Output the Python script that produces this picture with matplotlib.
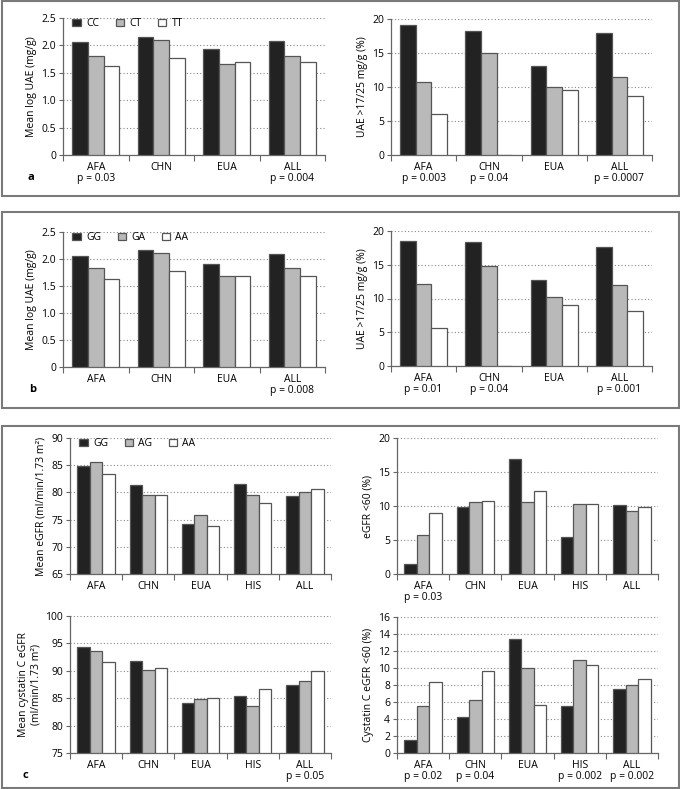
import matplotlib
matplotlib.use("Agg")
import matplotlib.pyplot as plt
from matplotlib.patches import Rectangle
import numpy as np

plt.rcParams["font.family"] = ["Open Sans", "DejaVu Sans"]
plt.rcParams["font.size"] = 7.5

# categories
groups_ab = ["AFA", "CHN", "EUA", "ALL"]
groups_c = ["AFA", "CHN", "EUA", "HIS", "ALL"]

# panel a
a_geno = ["CC", "CT", "TT"]
a_uae_cc = [2.06, 2.16, 1.93, 2.08]
a_uae_ct = [1.81, 2.10, 1.66, 1.81]
a_uae_tt = [1.63, 1.77, 1.70, 1.70]
a_uae_p = ["p = 0.03", "", "", "p = 0.004"]
a_pct_cc = [19.1, 18.2, 13.1, 18.0]
a_pct_ct = [10.8, 14.95, 9.95, 11.5]
a_pct_tt = [6.0, 0.0, 9.55, 8.7]
a_pct_p = ["p = 0.003", "p = 0.04", "", "p = 0.0007"]

# panel b
b_geno = ["GG", "GA", "AA"]
b_uae_gg = [2.05, 2.16, 1.91, 2.10]
b_uae_ga = [1.84, 2.12, 1.68, 1.84]
b_uae_aa = [1.63, 1.77, 1.69, 1.69]
b_uae_p = ["", "", "", "p = 0.008"]
b_pct_gg = [18.5, 18.3, 12.8, 17.65]
b_pct_ga = [12.15, 14.8, 10.2, 12.0]
b_pct_aa = [5.7, 0.0, 9.1, 8.1]
b_pct_p = ["p = 0.01", "p = 0.04", "", "p = 0.001"]

# panel c
c_geno = ["GG", "AG", "AA"]
c_egfr_gg = [84.8, 81.3, 74.1, 81.5, 79.3]
c_egfr_ag = [85.5, 79.6, 75.85, 79.6, 80.0]
c_egfr_aa = [83.3, 79.6, 73.8, 78.05, 80.6]
c_egfr_p = ["", "", "", "", ""]
c_low_gg = [1.5, 9.8, 16.9, 5.4, 10.2]
c_low_ag = [5.7, 10.6, 10.6, 10.3, 9.3]
c_low_aa = [8.9, 10.8, 12.25, 10.3, 9.85]
c_low_p = ["p = 0.03", "", "", "", ""]
c_cys_gg = [94.3, 91.8, 84.1, 85.4, 87.5]
c_cys_ag = [93.6, 90.2, 84.8, 83.6, 88.1]
c_cys_aa = [91.6, 90.6, 85.1, 86.7, 90.0]
c_cys_p = ["", "", "", "", "p = 0.05"]
c_cyslow_gg = [1.5, 4.2, 13.4, 5.5, 7.5]
c_cyslow_ag = [5.5, 6.2, 10.0, 11.0, 8.05]
c_cyslow_aa = [8.35, 9.7, 5.6, 10.4, 8.65]
c_cyslow_p = ["p = 0.02", "p = 0.04", "", "p = 0.002", "p = 0.002"]

colors = ["#222222", "#b9b9b9", "#ffffff"]
edge = "#555555"
W, H = 680, 789


def draw(rect, cats, series, pvals, ylim, yticks, yticklabels, ylabel, legend=None):
    x0, y0, x1, y1 = rect
    ax = fig.add_axes([x0 / W, 1 - y1 / H, (x1 - x0) / W, (y1 - y0) / H])
    x = np.arange(len(cats))
    bw = 0.24
    for k, vals in enumerate(series):
        ax.bar(x + (k - 1) * bw, np.array(vals) - ylim[0], bw, bottom=ylim[0],
               color=colors[k], edgecolor=edge, linewidth=0.9, zorder=3,
               label=legend[k] if legend else None)
    ax.set_xlim(-0.5, len(cats) - 0.5)
    ax.set_ylim(*ylim)
    ax.set_yticks(yticks)
    ax.set_yticklabels(yticklabels)
    ax.set_xticks(x)
    ax.set_xticklabels([c + ("\n" + p if p else "") for c, p in zip(cats, pvals)],
                       va="top", linespacing=0.95)
    ax.set_xticks(np.arange(len(cats) + 1) - 0.5, minor=True)
    ax.tick_params(axis="x", which="major", length=0, pad=5)
    ax.tick_params(axis="x", which="minor", length=4, color="#666666", width=0.8)
    ax.tick_params(axis="y", length=3, color="#666666", width=0.8, pad=2)
    ax.yaxis.grid(True, linestyle=(0, (1, 2)), color="#888888", linewidth=0.8, zorder=0)
    for s in ["top", "right"]:
        ax.spines[s].set_visible(False)
    for s in ["left", "bottom"]:
        ax.spines[s].set_color("#666666")
        ax.spines[s].set_linewidth(0.9)
    ax.set_ylabel(ylabel, labelpad=3)
    if legend:
        ax.legend(loc="upper left", bbox_to_anchor=(0.02, 1.03), ncol=3, frameon=False,
                  handlelength=0.8, handleheight=0.7, handletextpad=0.5,
                  columnspacing=1.6, borderaxespad=0)
    return ax


fig = plt.figure(figsize=(6.8, 7.89), dpi=100)

# panel frames
for top, bot in [(1, 196), (212, 408), (426, 788)]:
    fig.add_artist(Rectangle((1.5 / W, 1 - bot / H), (W - 3) / W, (bot - top) / H,
                             transform=fig.transFigure, fill=False,
                             edgecolor="#7a7a7a", linewidth=1.5))

uae_ticks = [0, 0.5, 1.0, 1.5, 2.0, 2.5]
uae_labels = ["0", "0.5", "1.0", "1.5", "2.0", "2.5"]
pct_ticks = [0, 5, 10, 15, 20]

draw((63, 18, 325, 155), groups_ab, [a_uae_cc, a_uae_ct, a_uae_tt], a_uae_p,
     (0, 2.5), uae_ticks, uae_labels, "Mean log UAE (mg/g)", legend=a_geno)
draw((391, 19, 652, 155), groups_ab, [a_pct_cc, a_pct_ct, a_pct_tt], a_pct_p,
     (0, 20), pct_ticks, [str(t) for t in pct_ticks], "UAE >17/25 mg/g (%)")

draw((63, 232, 325, 367), groups_ab, [b_uae_gg, b_uae_ga, b_uae_aa], b_uae_p,
     (0, 2.5), uae_ticks, uae_labels, "Mean log UAE (mg/g)", legend=b_geno)
draw((391, 231, 652, 366), groups_ab, [b_pct_gg, b_pct_ga, b_pct_aa], b_pct_p,
     (0, 20), pct_ticks, [str(t) for t in pct_ticks], "UAE >17/25 mg/g (%)")

egfr_ticks = [65, 70, 75, 80, 85, 90]
draw((70, 438, 331, 574), groups_c, [c_egfr_gg, c_egfr_ag, c_egfr_aa], c_egfr_p,
     (65, 90), egfr_ticks, [str(t) for t in egfr_ticks],
     "Mean eGFR (ml/min/1.73 m²)", legend=c_geno)
draw((397, 438, 658, 574), groups_c, [c_low_gg, c_low_ag, c_low_aa], c_low_p,
     (0, 20), pct_ticks, [str(t) for t in pct_ticks], "eGFR <60 (%)")

cys_ticks = [75, 80, 85, 90, 95, 100]
draw((70, 616, 331, 753), groups_c, [c_cys_gg, c_cys_ag, c_cys_aa], c_cys_p,
     (75, 100), cys_ticks, [str(t) for t in cys_ticks],
     "Mean cystatin C eGFR\n(ml/min/1.73 m²)")
cyslow_ticks = [0, 2, 4, 6, 8, 10, 12, 14, 16]
draw((397, 617, 658, 753), groups_c, [c_cyslow_gg, c_cyslow_ag, c_cyslow_aa], c_cyslow_p,
     (0, 16), cyslow_ticks, [str(t) for t in cyslow_ticks], "Cystatin C eGFR <60 (%)")

# panel letters
for txt, px, py in [("a", 31, 178), ("b", 33, 390), ("c", 25, 775)]:
    fig.text(px / W, 1 - py / H, txt, fontweight="bold", fontsize=8, ha="center", va="center")

fig.savefig("out.png", dpi=100)
